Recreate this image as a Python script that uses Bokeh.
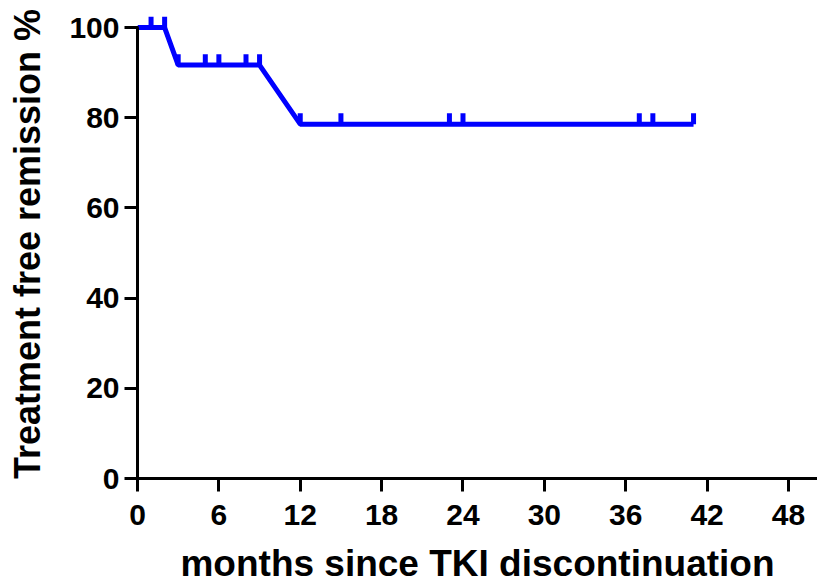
from bokeh.plotting import figure
from bokeh.embed import file_html
from bokeh.resources import INLINE
from bokeh.models import FixedTicker, Range1d

# Curve (points connected, as drawn)
curve_months = [0, 2, 3, 9, 12, 41]
curve_pct = [100, 100, 91.67, 91.67, 78.57, 78.57]

# Censored observations
censor_months = [1, 2, 3, 5, 6, 8, 9, 12, 15, 23, 24, 37, 38, 41]
censor_pct = [100, 100, 91.67, 91.67, 91.67, 91.67, 91.67, 78.57, 78.57, 78.57, 78.57, 78.57, 78.57, 78.57]

x_ticks = [0, 6, 12, 18, 24, 30, 36, 42, 48]
y_ticks = [0, 20, 40, 60, 80, 100]

FONT = "Liberation Sans"
BLUE = "#0000FF"

p = figure(width=817, height=588, output_backend="svg", toolbar_location=None,
           x_range=Range1d(0, 50.14), y_range=Range1d(0, 104),
           min_border_left=137, min_border_right=0, min_border_top=9, min_border_bottom=110)

p.line(curve_months, curve_pct, line_color=BLUE, line_width=5)
tick_h = 2.4
p.segment(x0=censor_months, y0=censor_pct, x1=censor_months,
          y1=[v + tick_h for v in censor_pct], line_color=BLUE, line_width=5)

p.grid.visible = False
p.outline_line_color = None
p.background_fill_color = "white"
p.border_fill_color = "white"

for ax in (p.xaxis[0], p.yaxis[0]):
    ax.axis_line_width = 3
    ax.axis_line_color = "black"
    ax.major_tick_line_width = 3
    ax.major_tick_line_color = "black"
    ax.major_tick_line_alpha = 1.0
    ax.major_tick_out = 13
    ax.major_tick_in = 1
    ax.minor_tick_out = 0
    ax.minor_tick_in = 0
    ax.major_label_text_font = FONT
    ax.major_label_text_font_style = "bold"
    ax.major_label_text_font_size = "30px"
    ax.major_label_text_color = "black"
    ax.axis_label_text_font = FONT
    ax.axis_label_text_font_style = "bold"
    ax.axis_label_text_color = "black"

p.xaxis.axis_label_text_font_size = "37px"
p.yaxis.axis_label_text_font_size = "36px"
p.xaxis.ticker = FixedTicker(ticks=x_ticks, minor_ticks=[])
p.yaxis.ticker = FixedTicker(ticks=y_ticks, minor_ticks=[])
p.yaxis.bounds = (0, 100)
p.xaxis.major_label_standoff = 13
p.yaxis.major_label_standoff = 5
p.xaxis.axis_label = "months since TKI discontinuation"
p.yaxis.axis_label = "Treatment free remission %"
p.xaxis.axis_label_standoff = 15
p.yaxis.axis_label_standoff = 18

open("out.html", "w").write(file_html(p, INLINE))
